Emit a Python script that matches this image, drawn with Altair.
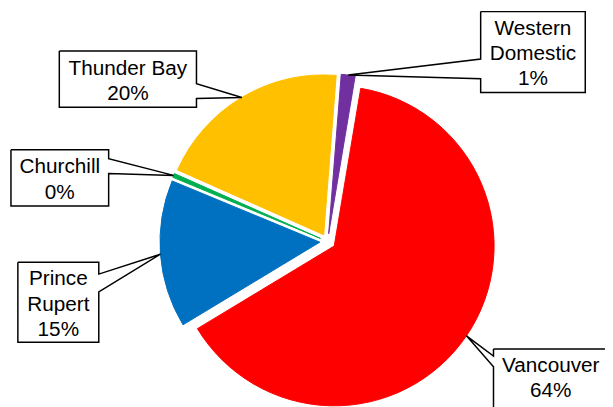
import math
import altair as alt
import pandas as pd

# ---- data ----
categories = ["Western Domestic", "Vancouver", "Prince Rupert", "Churchill", "Thunder Bay"]
values = [1.4, 63.7, 14.9, 0.4, 19.6]
colors = ["#7030A0", "#FF0000", "#0070C0", "#00B050", "#FFC000"]
wrap_name = [True, False, True, False, False]

# ---- layout (page pixel coordinates) ----
CX, CY = 332, 242
R = 162
EXPLODE = 8
START = math.radians(4.5)

box_x0 = [487, 500, 18, 11, 60]
box_x1 = [593, 640, 100, 110, 199]
box_y0 = [9, 351, 263, 149, 49]
box_y1 = [91, 420, 344, 206, 106]
wedge_side = ["left", "left", "right", "right", "right"]
wedge_y1 = [57, 358, 275, 158, 82]
wedge_y2 = [77, 369, 293, 173, 97]
text_x = [540, 558, 59, 60.5, 129.5]
text_y = [26.5, 368.5, 280.5, 167, 67.5]   # centre of the first line

df = pd.DataFrame({
    "idx": list(range(len(categories))),
    "category": categories,
    "value": values,
    "color": colors,
    "wrap": wrap_name,
    "bx0": box_x0, "bx1": box_x1, "by0": box_y0, "by1": box_y1,
    "side": wedge_side, "wy1": wedge_y1, "wy2": wedge_y2,
    "tx": text_x, "ty": text_y,
})

xs = alt.Scale(domain=[8, 613], nice=False, zero=False)
ys = alt.Scale(domain=[407, 8], nice=False, zero=False)

base = (
    alt.Chart(df)
    .transform_joinaggregate(total="sum(value)")
    .transform_window(cum="sum(value)", sort=[alt.SortField("idx")], frame=[None, 0])
    .transform_calculate(a0=f"{START} + 2*PI*(datum.cum - datum.value)/datum.total")
    .transform_calculate(a1=f"{START} + 2*PI*datum.cum/datum.total")
    .transform_calculate(mid="(datum.a0 + datum.a1)/2")
    .transform_calculate(cx=f"{CX} + {EXPLODE}*sin(datum.mid)")
    .transform_calculate(cy=f"{CY} - {EXPLODE}*cos(datum.mid)")
    .transform_calculate(ax=f"datum.cx + {R}*sin(datum.mid)")
    .transform_calculate(ay=f"datum.cy - {R}*cos(datum.mid)")
)

arcs = base.mark_arc(radius=R, strokeWidth=1).encode(
    x=alt.X("cx:Q", scale=xs, axis=None),
    y=alt.Y("cy:Q", scale=ys, axis=None),
    theta=alt.Theta("a0:Q", scale=None),
    theta2="a1:Q",
    color=alt.Color("color:N", scale=None, legend=None),
    stroke=alt.Stroke("color:N", scale=None, legend=None),
)

vx_expr = (
    "datum.side == 'left' ? "
    "[datum.bx0, datum.bx1, datum.bx1, datum.bx0, datum.bx0, datum.ax, datum.bx0, datum.bx0] : "
    "[datum.bx0, datum.bx1, datum.bx1, datum.ax, datum.bx1, datum.bx1, datum.bx0, datum.bx0]"
)
vy_expr = (
    "datum.side == 'left' ? "
    "[datum.by0, datum.by0, datum.by1, datum.by1, datum.wy2, datum.ay, datum.wy1, datum.by0] : "
    "[datum.by0, datum.by0, datum.wy1, datum.ay, datum.wy2, datum.by1, datum.by1, datum.by0]"
)

callouts = (
    base.transform_calculate(vx=vx_expr)
    .transform_calculate(vy=vy_expr)
    .transform_calculate(vi="[0, 1, 2, 3, 4, 5, 6, 7]")
    .transform_flatten(["vx", "vy", "vi"])
    .mark_line(fill="white", stroke="black", strokeWidth=1.5, strokeJoin="miter")
    .encode(
        x=alt.X("vx:Q", scale=xs, axis=None),
        y=alt.Y("vy:Q", scale=ys, axis=None),
        order="vi:Q",
        detail="category:N",
    )
)

labels = (
    base.transform_calculate(
        label="(datum.wrap ? replace(datum.category, ' ', '\\n') : datum.category) + '\\n' + format(datum.value / datum.total, '.0%')"
    )
    .mark_text(font="Liberation Sans", fontSize=21, lineBreak="\n", lineHeight=25.5,
               color="black", align="center", baseline="middle")
    .encode(
        x=alt.X("tx:Q", scale=xs, axis=None),
        y=alt.Y("ty:Q", scale=ys, axis=None),
        text="label:N",
    )
)

chart = (
    alt.layer(arcs, callouts, labels)
    .properties(width=605, height=399, padding=0, autosize="none")
    .configure_view(strokeWidth=0)
)

chart.save("out.html", embed_options={"renderer": "svg", "actions": False})
